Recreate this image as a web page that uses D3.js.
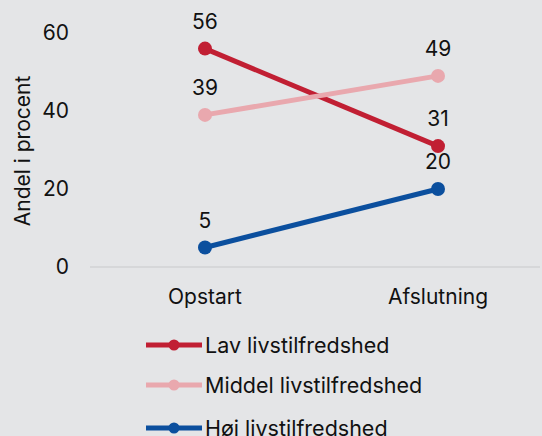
<!DOCTYPE html>
<html>
<head>
<meta charset="UTF-8">
<title>Livstilfredshed</title>
<style type="text/css">
	body{
		margin: 0;
		background-color: #e4e5e7;
	}
	svg text{
		font-family: Inter, "Noto Sans", sans-serif;
		fill: #111;
	}
</style>
</head>
<body>
<script src="https://cdn.jsdelivr.net/npm/d3@7"></script>
<script>
var categories = ["Opstart", "Afslutning"];
var seriesNames = ["Lav livstilfredshed", "Middel livstilfredshed", "Høj livstilfredshed"];
var lavValues = [56, 31];
var middelValues = [39, 49];
var hojValues = [5, 20];
var yTicks = [0, 20, 40, 60];
var colors = ["#c11f33", "#e9a8ae", "#0b4f9e"];

var width = 542;
var height = 436;

var svg = d3.select("body").append("svg")
	.attr("width", width)
	.attr("height", height);

var x = d3.scalePoint()
	.domain(categories)
	.range([88.5, 554.5])
	.padding(0.5);

var y = d3.scaleLinear()
	.domain([0, 60])
	.range([267, 33]);

// baseline
svg.append("line")
	.attr("x1", 90).attr("x2", 540)
	.attr("y1", y(0)).attr("y2", y(0))
	.attr("stroke", "#d6d7d9")
	.attr("stroke-width", 2);

// y tick labels
svg.selectAll(".ytick")
	.data(yTicks)
	.enter()
		.append("text")
		.attr("class", "ytick")
		.attr("x", 69)
		.attr("y", function(d){ return y(d); })
		.attr("dy", "0.35em")
		.attr("text-anchor", "end")
		.attr("font-size", "21px")
		.text(function(d){ return d; });

// y axis title
svg.append("text")
	.attr("transform", "translate(30,151) rotate(-90)")
	.attr("text-anchor", "middle")
	.attr("font-size", "21px")
	.text("Andel i procent");

// x labels
svg.selectAll(".xtick")
	.data(categories)
	.enter()
		.append("text")
		.attr("class", "xtick")
		.attr("x", function(d){ return x(d); })
		.attr("y", 304)
		.attr("text-anchor", "middle")
		.attr("font-size", "21px")
		.text(function(d){ return d; });

var series = [lavValues, middelValues, hojValues].map(function(vals, i){
	return {
		name: seriesNames[i],
		color: colors[i],
		values: vals.map(function(v, j){ return {cat: categories[j], v: v}; })
	};
});

var line = d3.line()
	.x(function(d){ return x(d.cat); })
	.y(function(d){ return y(d.v); });

var groups = svg.selectAll(".series")
	.data(series)
	.enter()
		.append("g")
		.attr("class", "series");

groups.append("path")
	.attr("d", function(d){ return line(d.values); })
	.attr("fill", "none")
	.attr("stroke", function(d){ return d.color; })
	.attr("stroke-width", 5);

groups.each(function(s){
	var g = d3.select(this);
	g.selectAll("circle")
		.data(s.values)
		.enter()
			.append("circle")
			.attr("cx", function(d){ return x(d.cat); })
			.attr("cy", function(d){ return y(d.v); })
			.attr("r", 7)
			.attr("fill", s.color);
	g.selectAll("text")
		.data(s.values)
		.enter()
			.append("text")
			.attr("x", function(d){ return x(d.cat); })
			.attr("y", function(d){ return y(d.v) - 27; })
			.attr("dy", "0.35em")
			.attr("text-anchor", "middle")
			.attr("font-size", "21px")
			.text(function(d){ return d.v; });
});

// legend
var legend = svg.selectAll(".legend")
	.data(series)
	.enter()
		.append("g")
		.attr("class", "legend")
		.attr("transform", function(d, i){ return "translate(0," + [345, 385, 428][i] + ")"; });

legend.append("line")
	.attr("x1", 146).attr("x2", 202)
	.attr("stroke", function(d){ return d.color; })
	.attr("stroke-width", 5);
legend.append("circle")
	.attr("cx", 174)
	.attr("r", 5.5)
	.attr("fill", function(d){ return d.color; });
legend.append("text")
	.attr("x", 205)
	.attr("dy", "0.35em")
	.attr("font-size", "21.5px")
	.text(function(d){ return d.name; });
</script>
</body>
</html>
